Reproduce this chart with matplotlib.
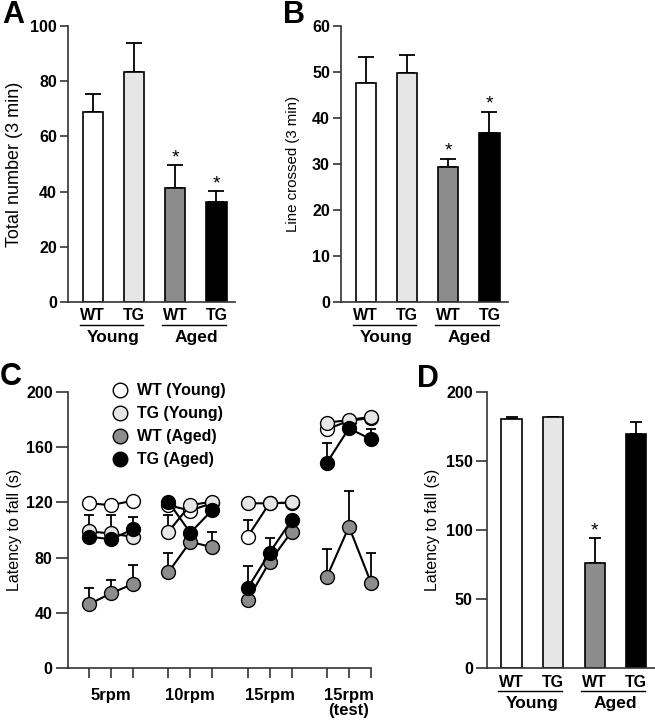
import numpy as np
import matplotlib
matplotlib.use("Agg")
import matplotlib.pyplot as plt
from matplotlib.lines import Line2D

plt.rcParams['font.family'] = ['Liberation Sans', 'DejaVu Sans']

# ---------------- data ----------------
bar_labels = ['WT', 'TG', 'WT', 'TG']
age_groups = ['Young', 'Aged']

A_mean = [69.0, 83.2, 41.4, 36.2]
A_err = [6.3, 10.8, 8.2, 4.1]
A_star = [False, False, True, True]

B_mean = [47.5, 49.8, 29.4, 36.7]
B_err = [5.7, 3.8, 1.7, 4.6]
B_star = [False, False, True, True]

D_mean = [180.0, 181.5, 75.9, 169.4]
D_err = [1.5, 0.0, 18.1, 8.4]
D_star = [False, False, True, False]

C_series = ['WT (Young)', 'TG (Young)', 'WT (Aged)', 'TG (Aged)']
C_sessions = ['5rpm', '10rpm', '15rpm', '15rpm\n(test)']
C_wt_young = [119.3, 118.0, 121.2, 118.0, 114.0, 119.5, 95.2, 119.5, 119.5, 172.8, 179.0, 181.0]
C_wt_young_err = [0, 0, 0, 0, 0, 0, 12.0, 0, 0, 0, 0, 0]
C_tg_young = [99.0, 97.5, 95.0, 98.8, 118.0, 120.5, 119.3, 119.3, 120.0, 177.6, 179.5, 181.9]
C_tg_young_err = [12.0, 13.0, 0, 12.0, 0, 0, 0, 0, 0, 0, 0, 0]
C_wt_aged = [46.3, 54.2, 61.0, 69.4, 91.5, 87.5, 49.4, 77.0, 98.8, 66.2, 102.4, 61.9]
C_wt_aged_err = [11.5, 9.6, 13.7, 14.2, 0, 11.3, 0, 0, 0, 19.8, 26.0, 21.7]
C_tg_aged = [95.2, 93.3, 100.5, 120.5, 98.0, 114.5, 57.8, 83.6, 107.2, 148.7, 173.5, 165.6]
C_tg_aged_err = [0, 0, 9.0, 0, 0, 0, 16.4, 10.4, 0, 14.5, 0, 7.2]

colors = ['white', '#e6e6e6', '#8c8c8c', 'black']
SPINE = '#333333'

fig = plt.figure(figsize=(6.55, 7.2), dpi=100)
W, H = 655.0, 720.0


def px_axes(left, top, right, bottom):
    return fig.add_axes([left / W, 1 - bottom / H, (right - left) / W, (bottom - top) / H])


def style_axes(ax, ticklen):
    for s in ['top', 'right']:
        ax.spines[s].set_visible(False)
    for s in ['left', 'bottom']:
        ax.spines[s].set_linewidth(1.2)
        ax.spines[s].set_color(SPINE)
    ax.tick_params(axis='y', direction='out', length=ticklen, width=1.2, color=SPINE,
                   labelsize=11.5, pad=2)
    for lab in ax.get_yticklabels():
        lab.set_fontweight('bold')


def bar_panel(ax, means, errs, stars, ytop, ystep, ylabel, ylsize, capsize, ticklen, labx):
    x = np.arange(len(means))
    ax.bar(x, means, width=0.49, color=colors, edgecolor='black', linewidth=1.2, zorder=2)
    ax.errorbar(x, means, yerr=[np.zeros(len(errs)), errs], fmt='none', ecolor='black',
                elinewidth=1.3, capsize=capsize, capthick=1.3, zorder=1)
    for xi, m, e, s in zip(x, means, errs, stars):
        if s:
            ax.annotate('*', (xi, m + e), xytext=(0, 2), textcoords='offset points',
                        ha='center', va='baseline', fontsize=14)
    ax.set_xlim(-0.6, 3.45)
    ax.set_ylim(0, ytop)
    ax.set_yticks(np.arange(0, ytop + 0.1, ystep))
    ax.set_xticks(x)
    ax.set_xticklabels(bar_labels, fontsize=11.5, fontweight='bold')
    ax.tick_params(axis='x', length=0, pad=4.5)
    style_axes(ax, ticklen)
    ax.set_ylabel(ylabel, fontsize=ylsize)
    ax.yaxis.set_label_coords(labx, 0.5)
    tr = ax.get_xaxis_transform()
    yline = -22.5 / 276.0
    ytxt = -35.5 / 276.0
    for gi, g in enumerate(age_groups):
        x0 = 2 * gi - 0.32
        x1 = 2 * gi + 1.22
        ax.plot([x0, x1], [yline, yline], color='black', lw=1.0, transform=tr, clip_on=False)
        ax.text(2 * gi + 0.5, ytxt, g, transform=tr, ha='center', va='center',
                fontsize=12.5, fontweight='bold')


axA = px_axes(68, 26, 235, 302)
bar_panel(axA, A_mean, A_err, A_star, 100, 20, 'Total number (3 min)', 13, 6, 6, -0.27)

axB = px_axes(341, 25.5, 508, 302)
bar_panel(axB, B_mean, B_err, B_star, 60, 10, 'Line crossed (3 min)', 10.8, 6, 6, -0.245)

axD = px_axes(486.7, 391.7, 655, 668.3)
bar_panel(axD, D_mean, D_err, D_star, 200, 50, 'Latency to fall (s)', 11.5, 4.5, 8, -0.28)

# ---------------- panel C ----------------
axC = px_axes(68, 391.7, 371, 668.3)
gap = 3.6
series_vals = [C_wt_aged, C_wt_young, C_tg_young, C_tg_aged]
series_errs = [C_wt_aged_err, C_wt_young_err, C_tg_young_err, C_tg_aged_err]
series_cols = [colors[2], colors[0], colors[1], colors[3]]
for k, (vals, errs, col) in enumerate(zip(series_vals, series_errs, series_cols)):
    for g in range(len(C_sessions)):
        xs = g * gap + np.arange(3)
        v = np.array(vals[3 * g:3 * g + 3])
        e = np.array(errs[3 * g:3 * g + 3])
        axC.errorbar(xs, v, yerr=[np.zeros(3), e], fmt='none', ecolor='black',
                     elinewidth=1.3, capsize=3.7, capthick=1.3, zorder=2 + 2 * k,
                     clip_on=False)
        axC.plot(xs, v, '-o', color='black', lw=1.5, ms=10, mfc=col, mec='black',
                 mew=1.0, zorder=3 + 2 * k, clip_on=False)

allx = np.concatenate([g * gap + np.arange(3) for g in range(len(C_sessions))])
axC.set_xlim(-0.95, allx[-1])
axC.set_ylim(0, 200)
axC.set_yticks(np.arange(0, 201, 40))
axC.set_xticks(allx)
xl = []
for g in range(len(C_sessions)):
    xl += ['', C_sessions[g], '']
axC.set_xticklabels(xl, fontsize=12, fontweight='bold', linespacing=1.0)
axC.tick_params(axis='x', direction='out', length=7, width=1.2, color=SPINE, pad=7.5)
style_axes(axC, 9)
axC.set_ylabel('Latency to fall (s)', fontsize=11.5)
axC.yaxis.set_label_coords(-0.152, 0.5)

handles = [Line2D([], [], ls='none', marker='o', ms=10.5, mfc=c, mec='black', mew=1.0)
           for c in colors]
axC.legend(handles, C_series, loc='upper left', bbox_to_anchor=(0.145, 1.03),
           frameon=False, borderpad=0, borderaxespad=0, handlelength=1.0,
           handletextpad=0.55, labelspacing=0.5, prop={'size': 11.5, 'weight': 'bold'})

# panel letters
for lab, lx, ty in [('A', 2, 0), ('B', 283, 0), ('C', 0, 362), ('D', 417, 364)]:
    fig.text(lx / W, 1 - ty / H, lab, ha='left', va='top', fontsize=22, fontweight='bold')

fig.savefig('out.png', dpi=100)
